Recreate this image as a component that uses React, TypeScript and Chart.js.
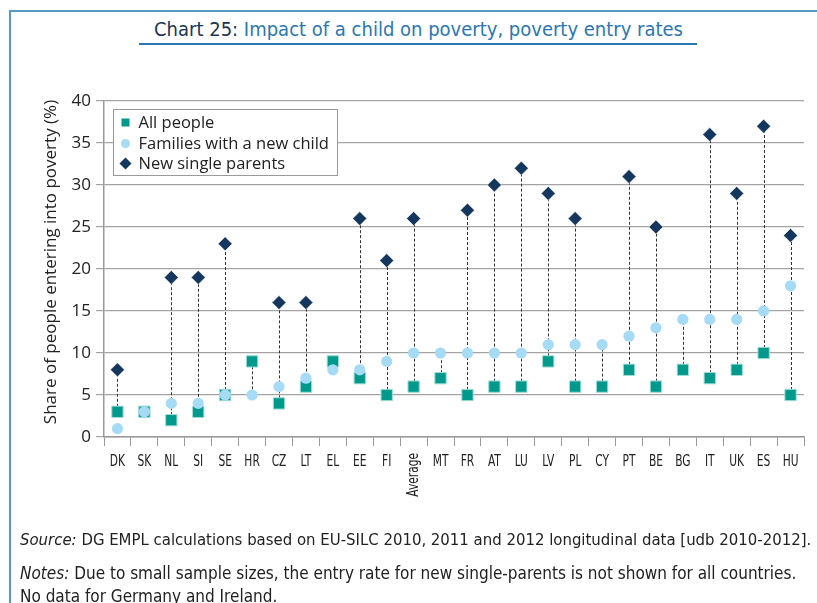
import React, { useEffect, useRef } from "react";
import { Chart, registerables } from "chart.js";

Chart.register(...registerables);

const categories = ["DK", "SK", "NL", "SI", "SE", "HR", "CZ", "LT", "EL", "EE", "FI", "Average", "MT", "FR", "AT", "LU", "LV", "PL", "CY", "PT", "BE", "BG", "IT", "UK", "ES", "HU"];
const allPeople = [3, 3, 2, 3, 5, 9, 4, 6, 9, 7, 5, 6, 7, 5, 6, 6, 9, 6, 6, 8, 6, 8, 7, 8, 10, 5];
const familiesNewChild = [1, 3, 4, 4, 5, 5, 6, 7, 8, 8, 9, 10, 10, 10, 10, 10, 11, 11, 11, 12, 13, 14, 14, 14, 15, 18];
const newSingleParents: (number | null)[] = [8, null, 19, 19, 23, null, 16, 16, null, 26, 21, 26, null, 27, 30, 32, 29, 26, null, 31, 25, null, 36, 29, 37, 24];
const seriesLabels = ["All people", "Families with a new child", "New single parents"];
const yMin = 0;
const yMax = 40;
const yStep = 5;
const yTitle = "Share of people entering into poverty (%)";

const TEAL = "#00998C";
const LIGHT = "#A6DBF6";
const NAVY = "#15365D";
const NARROW = "'Liberation Sans Narrow', 'DejaVu Sans Condensed', 'Arial Narrow', sans-serif";
const SANS = "'Open Sans', 'DejaVu Sans', sans-serif";

const rangeLines = {
  id: "rangeLines",
  beforeDatasetsDraw(chart: any) {
    const { ctx, scales } = chart;
    const x = scales.x, y = scales.y;
    ctx.save();
    ctx.strokeStyle = "#333";
    ctx.lineWidth = 1;
    ctx.setLineDash([3, 2]);
    categories.forEach((_, i) => {
      const base = allPeople[i];
      const s = newSingleParents[i];
      const top = Math.max(familiesNewChild[i], s == null ? -Infinity : s);
      const px = Math.round(x.getPixelForValue(i)) + 0.5;
      ctx.beginPath();
      ctx.moveTo(px, y.getPixelForValue(base));
      ctx.lineTo(px, y.getPixelForValue(top));
      ctx.stroke();
    });
    ctx.restore();
  },
};

const decorations = {
  id: "decorations",
  afterDraw(chart: any) {
    const { ctx, scales, chartArea } = chart;
    const x = scales.x;
    ctx.save();
    // x labels (condensed look)
    ctx.fillStyle = "#222";
    ctx.font = `16px ${NARROW}`;
    const squeeze = 0.74;
    categories.forEach((c, i) => {
      const px = x.getPixelForValue(i);
      ctx.save();
      if (c === "Average") {
        ctx.translate(px, chartArea.bottom + 16);
        ctx.rotate(-Math.PI / 2);
        ctx.scale(squeeze, 1);
        ctx.textAlign = "right";
        ctx.textBaseline = "middle";
        ctx.fillText(c, 0, 0);
      } else {
        ctx.translate(px, chartArea.bottom + 25);
        ctx.scale(squeeze, 1);
        ctx.textAlign = "center";
        ctx.textBaseline = "middle";
        ctx.fillText(c, 0, 0);
      }
      ctx.restore();
    });
    // y title
    ctx.save();
    ctx.translate(51, (chartArea.top + chartArea.bottom) / 2 - 7);
    ctx.rotate(-Math.PI / 2);
    ctx.textAlign = "center";
    ctx.textBaseline = "middle";
    ctx.font = `17px ${SANS}`;
    ctx.fillStyle = "#222";
    ctx.fillText(yTitle, 0, 0);
    ctx.restore();
    // legend
    const lx = chartArea.left + 9.5, ly = chartArea.top + 8.5, lw = 224, lh = 66;
    ctx.fillStyle = "#fff";
    ctx.fillRect(lx, ly, lw, lh);
    ctx.strokeStyle = "#9a9a9a";
    ctx.lineWidth = 1;
    ctx.strokeRect(lx, ly, lw, lh);
    ctx.font = `16.5px ${SANS}`;
    ctx.textAlign = "left";
    ctx.textBaseline = "middle";
    const rows = [ly + 13, ly + 34, ly + 54];
    rows.forEach((ry, k) => {
      const mx = lx + 12;
      if (k === 0) {
        ctx.fillStyle = TEAL;
        ctx.fillRect(mx - 4, ry - 4, 8, 8);
      } else if (k === 1) {
        ctx.fillStyle = LIGHT;
        ctx.beginPath();
        ctx.arc(mx, ry, 4.5, 0, Math.PI * 2);
        ctx.fill();
      } else {
        ctx.fillStyle = NAVY;
        ctx.beginPath();
        ctx.moveTo(mx, ry - 6);
        ctx.lineTo(mx + 6, ry);
        ctx.lineTo(mx, ry + 6);
        ctx.lineTo(mx - 6, ry);
        ctx.closePath();
        ctx.fill();
      }
      ctx.fillStyle = "#222";
      ctx.fillText(seriesLabels[k], lx + 25, ry + 1);
    });
    ctx.restore();
  },
};

function ChartView() {
  const ref = useRef<HTMLCanvasElement | null>(null);
  useEffect(() => {
    if (!ref.current) return;
    const chart = new Chart(ref.current, {
      type: "line",
      data: {
        labels: categories,
        datasets: [
          {
            label: seriesLabels[2],
            data: newSingleParents,
            showLine: false,
            pointStyle: "rectRot",
            pointRadius: 7,
            pointBackgroundColor: NAVY,
            pointBorderColor: "#ffffff",
            pointBorderWidth: 0.5,
            order: 0,
          },
          {
            label: seriesLabels[1],
            data: familiesNewChild,
            showLine: false,
            pointStyle: "circle",
            pointRadius: 5.6,
            pointBackgroundColor: LIGHT,
            pointBorderColor: LIGHT,
            pointBorderWidth: 0,
            order: 1,
          },
          {
            label: seriesLabels[0],
            data: allPeople,
            showLine: false,
            pointStyle: "rect",
            pointRadius: 8,
            pointBackgroundColor: TEAL,
            pointBorderColor: "#9fdcd5",
            pointBorderWidth: 1,
            order: 2,
          },
        ],
      },
      options: {
        animation: false,
        responsive: false,
        maintainAspectRatio: false,
        layout: { padding: { left: 44, right: 13, top: 101, bottom: 166 } },
        plugins: { legend: { display: false }, tooltip: { enabled: false }, title: { display: false } },
        elements: { point: { hoverRadius: 0 } },
        scales: {
          x: {
            type: "category",
            offset: true,
            afterFit(scale: any) { scale.height = 0; },
            grid: { display: true, drawOnChartArea: false, drawTicks: true, tickLength: 9, offset: true, color: "#9a9a9a", lineWidth: 1 },
            border: { display: true, color: "#9a9a9a", width: 1.5 },
            ticks: { display: false },
          },
          y: {
            min: yMin,
            max: yMax,
            afterFit(scale: any) { scale.width = 60; },
            ticks: { stepSize: yStep, padding: 5, color: "#222", font: { family: SANS, size: 17 } },
            grid: { color: "#a4a4a4", lineWidth: 1.2, tickLength: 8, drawTicks: true },
            border: { display: true, color: "#9a9a9a", width: 1.5 },
          },
        },
      },
      plugins: [rangeLines, decorations],
    });
    return () => chart.destroy();
  }, []);
  return <canvas ref={ref} width={817} height={603} style={{ position: "absolute", left: 0, top: 0, width: 817, height: 603 }} />;
}

export default function App() {
  return (
    <div style={{ position: "absolute", left: 0, top: 0, width: 817, height: 603, overflow: "hidden", background: "#fff" }}>
      <div style={{ position: "absolute", left: 9, top: 10, width: 820, height: 2, background: "#5799c9" }} />
      <div style={{ position: "absolute", left: 9, top: 10, width: 2, height: 600, background: "#5799c9" }} />
      <div style={{ position: "absolute", left: 0, width: 837, top: 15, textAlign: "center", fontFamily: NARROW, fontSize: 20, lineHeight: "28px", whiteSpace: "nowrap" }}>
        <span style={{ color: "#1b3556" }}>Chart 25: </span>
        <span style={{ color: "#2a78b2" }}>Impact of a child on poverty, poverty entry rates</span>
      </div>
      <div style={{ position: "absolute", left: 139, top: 43, width: 558, height: 1.5, background: "#2a78b2" }} />
      <ChartView />
      <div style={{ position: "absolute", left: 20, top: 529, fontFamily: NARROW, fontSize: 16.6, lineHeight: "22px", color: "#222", whiteSpace: "nowrap" }}>
        <i>Source:</i> DG EMPL calculations based on EU-SILC 2010, 2011 and 2012 longitudinal data [udb 2010-2012].
      </div>
      <div style={{ position: "absolute", left: 20, top: 562, fontFamily: NARROW, fontSize: 17, lineHeight: "23px", color: "#222", whiteSpace: "nowrap" }}>
        <i>Notes:</i> Due to small sample sizes, the entry rate for new single-parents is not shown for all countries.
        <br />
        No data for Germany and Ireland.
      </div>
    </div>
  );
}
